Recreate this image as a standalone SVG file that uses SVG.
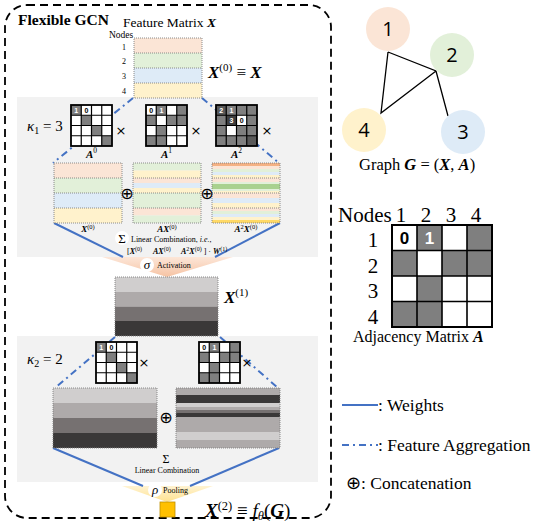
<svg xmlns="http://www.w3.org/2000/svg" width="537" height="527" viewBox="0 0 537 527">
<style>
.serif{font-family:"Liberation Serif","Times New Roman",serif;fill:#000}
.sans{font-family:"Liberation Sans",Arial,sans-serif}
.m{font-family:"Liberation Serif","Times New Roman",serif;font-weight:bold;font-style:italic}
.it{font-style:italic}
.w{stroke:#4472c4;stroke-width:2;fill:none}
.agg{stroke:#4472c4;stroke-width:2;fill:none;stroke-dasharray:7 4 2 4}
.dot{fill:none;stroke:#7f7f7f;stroke-width:0.9;stroke-dasharray:1 1}
.c1{fill:#7f7f7f}.c2{fill:#595959}.c3{fill:#3f3f3f}
.num{font-family:"Liberation Sans",Arial,sans-serif;font-weight:bold;font-size:7px;text-anchor:middle}
.x{font-family:"DejaVu Sans",sans-serif;font-size:13px;text-anchor:middle}
.op{font-family:"DejaVu Sans",sans-serif;font-size:16px;text-anchor:middle}
.edge{stroke:#000;stroke-width:1.3;fill:none}
.gn{font-family:"Open Sans","Liberation Sans",sans-serif;font-size:20px;text-anchor:middle}
</style>
<defs>
<path id="g4s" d="M10.25 0V41M20.5 0V41M30.75 0V41M0 10.25H41M0 20.5H41M0 30.75H41" stroke="#000" stroke-width="1.2" fill="none"/>
<rect id="b4s" width="41" height="41" fill="none" stroke="#000" stroke-width="1.8"/>
<linearGradient id="actg" x1="0" y1="0" x2="0" y2="1"><stop offset="0" stop-color="#fce6d8"/><stop offset="1" stop-color="#f6c3a3"/></linearGradient>
<linearGradient id="poolg" x1="0" y1="0" x2="0" y2="1"><stop offset="0" stop-color="#fff3d2"/><stop offset="1" stop-color="#ffe28f"/></linearGradient>
</defs>

<g id="frame">
<rect x="5" y="5" width="326" height="513" rx="22" fill="none" stroke="#000" stroke-width="1.8" stroke-dasharray="8 5"/>
<rect x="17" y="97" width="301" height="160" fill="#f2f2f2"/>
<rect x="17" y="336" width="301" height="146" fill="#f2f2f2"/>
<text class="serif" x="18" y="25" font-size="15.5" font-weight="bold">Flexible GCN</text>
<text class="serif" x="27" y="131" font-size="15"><tspan class="it">κ</tspan><tspan font-size="10" dy="3">1</tspan><tspan dy="-3"> = 3</tspan></text>
<text class="serif" x="27" y="364" font-size="15"><tspan class="it">κ</tspan><tspan font-size="10" dy="3">2</tspan><tspan dy="-3"> = 2</tspan></text>
</g>

<g id="activation">
<polygon points="102,257 233,257 167,277" fill="url(#actg)"/>
<circle cx="147" cy="265" r="7" fill="#fff"/>
<text class="serif it" x="147" y="269" font-size="13" text-anchor="middle">σ</text>
<text class="serif" x="157" y="268" font-size="8">Activation</text>
</g>

<g id="pooling">
<polygon points="122,486 213,486 167,502" fill="url(#poolg)"/>
<circle cx="155" cy="490" r="7" fill="#fff"/>
<text class="serif it" x="155" y="494" font-size="13" text-anchor="middle">ρ</text>
<text class="serif" x="163" y="493" font-size="8">Pooling</text>
</g>

<g id="connectors">
<path class="agg" d="M133 98L53 163"/>
<path class="agg" d="M202 98L279 163"/>
<path class="w" d="M54 223L123 257"/>
<path class="w" d="M280 223L215 257"/>
<path class="agg" d="M115 337L55 388"/>
<path class="agg" d="M220 337L278 388"/>
<path class="w" d="M53 448L143 486"/>
<path class="w" d="M279 448L190 486"/>
</g>

<g id="feature-matrix">
<rect x="134" y="38" width="68" height="15" fill="#fbe5d6"/>
<rect x="134" y="53" width="68" height="15" fill="#e2f0d9"/>
<rect x="134" y="68" width="68" height="15" fill="#deebf7"/>
<rect x="134" y="83" width="68" height="15" fill="#fff2cc"/>
<rect class="dot" x="134" y="38" width="68" height="60"/>
<path class="dot" d="M134 53H202M134 68H202M134 83H202"/>
<text class="serif" x="109" y="38" font-size="9.5">Nodes</text>
<text class="serif" x="124" y="50" font-size="8" text-anchor="middle">1</text>
<text class="serif" x="124" y="64" font-size="8" text-anchor="middle">2</text>
<text class="serif" x="124" y="79" font-size="8" text-anchor="middle">3</text>
<text class="serif" x="124" y="94" font-size="8" text-anchor="middle">4</text>
<text class="serif" x="123" y="27" font-size="13.5">Feature Matrix <tspan class="m">X</tspan></text>
<text class="serif" x="208" y="78" font-size="17"><tspan class="m">X</tspan><tspan font-size="11" dy="-7">(0)</tspan><tspan dy="7"> ≡ </tspan><tspan class="m">X</tspan></text>
</g>

<g id="A0-l1" transform="translate(71,105)">
<rect width="41" height="41" fill="#fff"/>
<rect class="c1" x="0" y="0" width="10.25" height="10.25"/>
<rect class="c1" x="10.25" y="10.25" width="10.25" height="10.25"/>
<rect class="c1" x="20.5" y="20.5" width="10.25" height="10.25"/>
<rect class="c1" x="30.75" y="30.75" width="10.25" height="10.25"/>
<use href="#g4s"/><use href="#b4s"/>
<text class="num" x="5.1" y="7.8" fill="#fff">1</text>
<text class="num" x="15.4" y="7.8">0</text>
<text class="x" x="50" y="30">×</text>
<text class="serif" x="20.5" y="53" font-size="11" text-anchor="middle"><tspan class="m">A</tspan><tspan font-size="7.5" dy="-5">0</tspan></text>
</g>

<g id="A1-l1" transform="translate(146,105)">
<rect width="41" height="41" fill="#fff"/>
<rect class="c1" x="10.25" y="0" width="10.25" height="10.25"/>
<rect class="c1" x="30.75" y="0" width="10.25" height="10.25"/>
<rect class="c1" x="0" y="10.25" width="10.25" height="10.25"/>
<rect class="c1" x="20.5" y="10.25" width="20.5" height="10.25"/>
<rect class="c1" x="10.25" y="20.5" width="10.25" height="10.25"/>
<rect class="c1" x="0" y="30.75" width="20.5" height="10.25"/>
<use href="#g4s"/><use href="#b4s"/>
<text class="num" x="5.1" y="7.8">0</text>
<text class="num" x="15.4" y="7.8" fill="#fff">1</text>
<text class="x" x="50" y="30">×</text>
<text class="serif" x="20.5" y="53" font-size="11" text-anchor="middle"><tspan class="m">A</tspan><tspan font-size="7.5" dy="-5">1</tspan></text>
</g>

<g id="A2-l1" transform="translate(216,105)">
<rect width="41" height="41" fill="#7f7f7f"/>
<rect class="c2" x="0" y="0" width="10.25" height="10.25"/>
<rect class="c3" x="10.25" y="10.25" width="10.25" height="10.25"/>
<rect fill="#fff" x="20.5" y="10.25" width="10.25" height="10.25"/>
<rect fill="#fff" x="10.25" y="20.5" width="10.25" height="10.25"/>
<rect class="c2" x="30.75" y="30.75" width="10.25" height="10.25"/>
<use href="#g4s"/><use href="#b4s"/>
<text class="num" x="5.1" y="7.8" fill="#fff">2</text>
<text class="num" x="15.4" y="7.8" fill="#fff">1</text>
<text class="num" x="15.4" y="18" fill="#fff">3</text>
<text class="num" x="25.6" y="18">0</text>
<text class="x" x="51" y="30">×</text>
<text class="serif" x="20.5" y="53" font-size="11" text-anchor="middle"><tspan class="m">A</tspan><tspan font-size="7.5" dy="-5">2</tspan></text>
</g>

<g id="X0-block">
<rect x="54" y="163" width="68" height="15" fill="#fbe5d6"/>
<rect x="54" y="178" width="68" height="15" fill="#e2f0d9"/>
<rect x="54" y="193" width="68" height="15" fill="#deebf7"/>
<rect x="54" y="208" width="68" height="15" fill="#fff2cc"/>
<rect class="dot" x="54" y="163" width="68" height="60"/>
<path class="dot" d="M54 178H122M54 193H122M54 208H122"/>
<text class="serif" x="88" y="232" font-size="9" text-anchor="middle"><tspan class="m">X</tspan><tspan font-size="6.5" dy="-3.5">(0)</tspan></text>
</g>

<g id="AX0-block">
<rect x="133" y="163" width="68" height="7.5" fill="#e2f0d9"/>
<rect x="133" y="170.5" width="68" height="7.5" fill="#fff2cc"/>
<rect x="133" y="178" width="68" height="5" fill="#fbe5d6"/>
<rect x="133" y="183" width="68" height="5" fill="#deebf7"/>
<rect x="133" y="188" width="68" height="5" fill="#fff2cc"/>
<rect x="133" y="193" width="68" height="15" fill="#e2f0d9"/>
<rect x="133" y="208" width="68" height="7.5" fill="#fbe5d6"/>
<rect x="133" y="215.5" width="68" height="7.5" fill="#e2f0d9"/>
<rect class="dot" x="133" y="163" width="68" height="60"/>
<path class="dot" d="M133 178H201M133 193H201M133 208H201"/>
<text class="op" x="127" y="199">⊕</text>
<text class="serif" x="167" y="232" font-size="9" text-anchor="middle"><tspan class="m">AX</tspan><tspan font-size="6.5" dy="-3.5">(0)</tspan></text>
</g>

<g id="A2X0-block">
<rect x="212" y="163" width="68" height="3" fill="#f4b183"/>
<rect x="212" y="166" width="68" height="3" fill="#fbe5d6"/>
<rect x="212" y="169" width="68" height="3" fill="#e2f0d9"/>
<rect x="212" y="172" width="68" height="3" fill="#deebf7"/>
<rect x="212" y="175" width="68" height="3" fill="#fff2cc"/>
<rect x="212" y="178" width="68" height="4" fill="#fbe5d6"/>
<rect x="212" y="182" width="68" height="2" fill="#e2f0d9"/>
<rect x="212" y="184" width="68" height="5" fill="#a9d18e"/>
<rect x="212" y="189" width="68" height="2" fill="#e2f0d9"/>
<rect x="212" y="191" width="68" height="2" fill="#fff2cc"/>
<rect x="212" y="193" width="68" height="5" fill="#fbe5d6"/>
<rect x="212" y="198" width="68" height="5" fill="#deebf7"/>
<rect x="212" y="203" width="68" height="5" fill="#fff2cc"/>
<rect x="212" y="208" width="68" height="3" fill="#fbe5d6"/>
<rect x="212" y="211" width="68" height="3" fill="#e2f0d9"/>
<rect x="212" y="214" width="68" height="3" fill="#deebf7"/>
<rect x="212" y="217" width="68" height="3" fill="#fff2cc"/>
<rect x="212" y="220" width="68" height="3" fill="#ffd966"/>
<rect class="dot" x="212" y="163" width="68" height="60"/>
<path class="dot" d="M212 178H280M212 193H280M212 208H280"/>
<text class="op" x="207" y="199">⊕</text>
<text class="serif" x="246" y="232" font-size="9" text-anchor="middle"><tspan class="m">A</tspan><tspan font-size="6.5" dy="-3.5">2</tspan><tspan class="m" dy="3.5">X</tspan><tspan font-size="6.5" dy="-3.5">(0)</tspan></text>
</g>

<g id="linear-combination-1">
<circle cx="122" cy="238" r="7" fill="#fff"/>
<text class="serif" x="122" y="243" font-size="13" text-anchor="middle">Σ</text>
<text class="serif" x="131" y="242" font-size="8">Linear Combination, <tspan class="it">i.e.</tspan>,</text>
<text class="serif" x="127" y="254" font-size="8">[<tspan class="m">X</tspan><tspan font-size="6" dy="-3">(0)</tspan></text>
<text class="serif" x="153" y="254" font-size="8"><tspan class="m">AX</tspan><tspan font-size="6" dy="-3">(0)</tspan></text>
<text class="serif" x="181" y="254" font-size="8"><tspan class="m">A</tspan><tspan font-size="6" dy="-3">2</tspan><tspan class="m" dy="3">X</tspan><tspan font-size="6" dy="-3">(0)</tspan><tspan dy="3"> ] · </tspan><tspan class="m">W</tspan><tspan font-size="6" dy="-3">(1)</tspan></text>
</g>

<g id="X1">
<rect x="115" y="277" width="103" height="15" fill="#d0cece"/>
<rect x="115" y="292" width="103" height="14.5" fill="#aeaaaa"/>
<rect x="115" y="306.5" width="103" height="14.5" fill="#767171"/>
<rect x="115" y="321" width="103" height="15" fill="#3a3838"/>
<rect class="dot" x="115" y="277" width="103" height="59"/>
<text class="serif" x="224" y="303" font-size="17"><tspan class="m">X</tspan><tspan font-size="11" dy="-7">(1)</tspan></text>
</g>

<g id="A0-l2" transform="translate(96,342)">
<rect width="41" height="41" fill="#fff"/>
<rect class="c1" x="0" y="0" width="10.25" height="10.25"/>
<rect class="c1" x="10.25" y="10.25" width="10.25" height="10.25"/>
<rect class="c1" x="20.5" y="20.5" width="10.25" height="10.25"/>
<rect class="c1" x="30.75" y="30.75" width="10.25" height="10.25"/>
<use href="#g4s"/><use href="#b4s"/>
<text class="num" x="5.1" y="7.8" fill="#fff">1</text>
<text class="num" x="15.4" y="7.8">0</text>
<text class="x" x="48" y="25">×</text>
</g>

<g id="A1-l2" transform="translate(199,342)">
<rect width="41" height="41" fill="#fff"/>
<rect class="c1" x="10.25" y="0" width="10.25" height="10.25"/>
<rect class="c1" x="30.75" y="0" width="10.25" height="10.25"/>
<rect class="c1" x="0" y="10.25" width="10.25" height="10.25"/>
<rect class="c1" x="20.5" y="10.25" width="20.5" height="10.25"/>
<rect class="c1" x="10.25" y="20.5" width="10.25" height="10.25"/>
<rect class="c1" x="0" y="30.75" width="20.5" height="10.25"/>
<use href="#g4s"/><use href="#b4s"/>
<text class="num" x="5.1" y="7.8">0</text>
<text class="num" x="15.4" y="7.8" fill="#fff">1</text>
<text class="x" x="48" y="25">×</text>
</g>

<g id="X1-block-l2">
<rect x="53" y="388" width="104" height="15" fill="#d0cece"/>
<rect x="53" y="403" width="104" height="15" fill="#aeaaaa"/>
<rect x="53" y="418" width="104" height="15" fill="#767171"/>
<rect x="53" y="433" width="104" height="15" fill="#3a3838"/>
<rect class="dot" x="53" y="388" width="104" height="60"/>
</g>

<g id="AX1-block-l2">
<rect x="176" y="388" width="104" height="7" fill="#aeaaaa"/>
<rect x="176" y="395" width="104" height="8" fill="#3a3838"/>
<rect x="176" y="403" width="104" height="4" fill="#d0cece"/>
<rect x="176" y="407" width="104" height="3" fill="#aeaaaa"/>
<rect x="176" y="410" width="104" height="3" fill="#767171"/>
<rect x="176" y="413" width="104" height="4" fill="#3a3838"/>
<rect x="176" y="417" width="104" height="15" fill="#aeaaaa"/>
<rect x="176" y="432" width="104" height="8" fill="#d0cece"/>
<rect x="176" y="440" width="104" height="8" fill="#aeaaaa"/>
<rect class="dot" x="176" y="388" width="104" height="60"/>
<text class="op" x="166" y="423">⊕</text>
</g>

<g id="linear-combination-2">
<text class="serif" x="166" y="463" font-size="12" text-anchor="middle">Σ</text>
<text class="serif" x="167" y="473" font-size="8" text-anchor="middle">Linear Combination</text>
</g>

<g id="output">
<rect x="160" y="502" width="15" height="15" fill="#ffc000" stroke="#bf9000" stroke-width="0.8"/>
<text class="serif" x="205" y="517" font-size="19"><tspan class="m">X</tspan><tspan font-size="12.5" dy="-7">(2)</tspan><tspan dy="7"> ≡ </tspan><tspan font-style="italic">f</tspan><tspan font-size="12.5" font-style="italic" dy="3">θ</tspan><tspan dy="-3">(</tspan><tspan class="m">G</tspan>)</text>
</g>

<g id="graph-edges">
<path class="edge" d="M388 52L436 71L448 116M388 52L381 113L436 71"/>
</g>
<g id="node-1"><circle cx="388" cy="29" r="22" fill="#fbe5d6"/><text class="gn" x="388" y="36">1</text></g>
<g id="node-2"><circle cx="452" cy="55" r="22" fill="#e2f0d9"/><text class="gn" x="452" y="62">2</text></g>
<g id="node-3"><circle cx="463" cy="132" r="22" fill="#deebf7"/><text class="gn" x="463" y="139">3</text></g>
<g id="node-4"><circle cx="364" cy="130" r="22" fill="#fff2cc"/><text class="gn" x="364" y="137">4</text></g>
<text class="serif" x="359" y="170" font-size="16.5">Graph <tspan class="m">G</tspan> = (<tspan class="m">X</tspan>, <tspan class="m">A</tspan>)</text>

<g id="adjacency">
<text class="serif" x="338" y="222" font-size="21">Nodes</text>
<text class="serif" x="401" y="222" font-size="21" text-anchor="middle">1</text>
<text class="serif" x="426" y="222" font-size="21" text-anchor="middle">2</text>
<text class="serif" x="451" y="222" font-size="21" text-anchor="middle">3</text>
<text class="serif" x="476" y="222" font-size="21" text-anchor="middle">4</text>
<text class="serif" x="373" y="247" font-size="21" text-anchor="middle">1</text>
<text class="serif" x="373" y="273" font-size="21" text-anchor="middle">2</text>
<text class="serif" x="373" y="298" font-size="21" text-anchor="middle">3</text>
<text class="serif" x="373" y="324" font-size="21" text-anchor="middle">4</text>
<g transform="translate(392,225)">
<rect width="100" height="102" fill="#fff"/>
<rect class="c1" x="25" y="0" width="25" height="25.5"/>
<rect class="c1" x="75" y="0" width="25" height="25.5"/>
<rect class="c1" x="0" y="25.5" width="25" height="25.5"/>
<rect class="c1" x="50" y="25.5" width="50" height="25.5"/>
<rect class="c1" x="25" y="51" width="25" height="25.5"/>
<rect class="c1" x="0" y="76.5" width="50" height="25.5"/>
<path d="M25 0V102M50 0V102M75 0V102M0 25.5H100M0 51H100M0 76.5H100" stroke="#000" stroke-width="1.6" fill="none"/>
<rect width="100" height="102" fill="none" stroke="#000" stroke-width="2"/>
<text class="sans" x="12.5" y="19" font-size="17" font-weight="bold" text-anchor="middle">0</text>
<text class="sans" x="37.5" y="19" font-size="17" font-weight="bold" text-anchor="middle" fill="#fff">1</text>
</g>
<text class="serif" x="353" y="342" font-size="16">Adjacency Matrix <tspan class="m">A</tspan></text>
</g>

<g id="legend">
<path class="w" d="M342 405H378"/>
<text class="serif" x="378" y="411" font-size="17.5">: Weights</text>
<path class="agg" d="M342 445H378" stroke-dasharray="5 3 2 3"/>
<text class="serif" x="378" y="451" font-size="17.5">: Feature Aggregation</text>
<text class="serif" x="346" y="489" font-size="17.5"><tspan font-family="DejaVu Sans" font-size="18">⊕</tspan>: Concatenation</text>
</g>
</svg>
